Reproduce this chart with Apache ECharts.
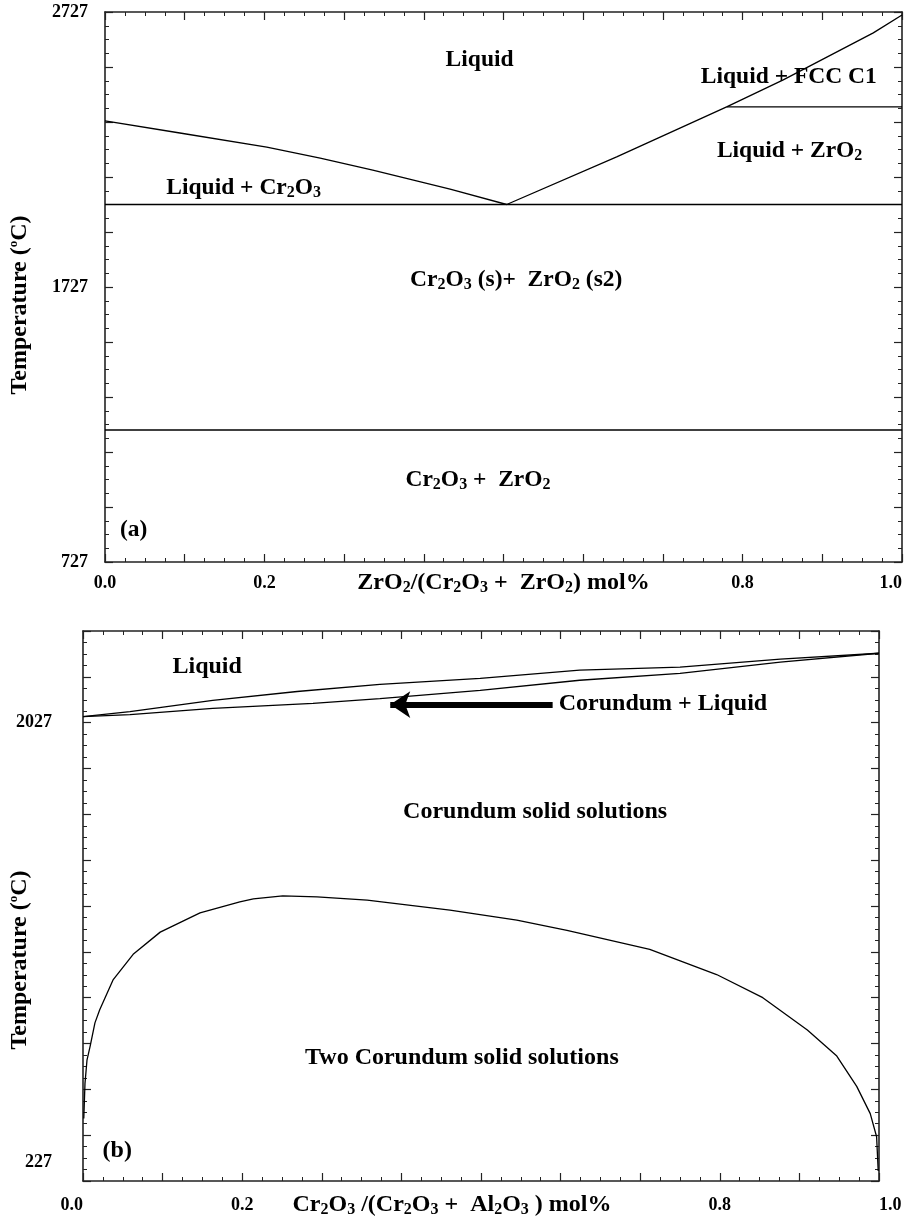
<!DOCTYPE html>
<html lang="en">
<head>
<meta charset="UTF-8">
<title>Cr2O3-ZrO2 / Cr2O3-Al2O3 phase diagrams</title>
<script src="https://cdn.jsdelivr.net/npm/echarts@6/dist/echarts.min.js"></script>
<style>
    html, body { margin: 0; padding: 0; background: #fff; }
    #chartmain { width: 904px; height: 1218px; }
</style>
</head>
<body>
<div id="chartmain"></div>
<script>
// ---------- panel (a): ZrO2/(Cr2O3 + ZrO2), T in C ----------
var liqCr2O3A = [[0, 2331], [0.094, 2287], [0.203, 2236], [0.270, 2196], [0.336, 2152], [0.433, 2083], [0.504, 2027]];
var liqZrO2A  = [[0.504, 2027], [0.642, 2200], [0.780, 2382], [0.851, 2480], [0.964, 2651], [1.0, 2716]];
var eutecticA = [[0, 2027], [1, 2027]];
var fccA      = [[0.780, 2382], [1, 2382]];
var transA    = [[0, 1207], [1, 1207]];
// x, T, text ('_n' = subscript), anchor
var labelsA = [
    [0.470, 2552, 'Liquid', 'c'],
    [0.858, 2491, 'Liquid + FCC C1', 'c'],
    [0.859, 2222, 'Liquid + ZrO_2', 'c'],
    [0.174, 2087, 'Liquid + Cr_2O_3', 'c'],
    [0.516, 1752, 'Cr_2O_3 (s)+  ZrO_2 (s2)', 'c'],
    [0.468, 1025, 'Cr_2O_3 +  ZrO_2', 'c'],
    [0.036, 843, '(a)', 'c']
];
var xTicksA = [0, 0.2, 0.8, 1.0];
var yTicksA = [727, 1727, 2727];

// ---------- panel (b): Cr2O3/(Cr2O3 + Al2O3), T in C ----------
var liquidusB = [[0, 2053], [0.059, 2075], [0.163, 2124], [0.269, 2163], [0.373, 2194], [0.499, 2220], [0.624, 2256], [0.750, 2269], [0.876, 2304], [1.0, 2330]];
var solidusB  = [[0, 2053], [0.059, 2062], [0.163, 2089], [0.289, 2111], [0.373, 2132], [0.499, 2168], [0.624, 2212], [0.750, 2242], [0.876, 2291], [1.0, 2330]];
var solvusB = [[0.001, 300], [0.0025, 453], [0.005, 554], [0.009, 616], [0.015, 717], [0.021, 774], [0.038, 906],
    [0.063, 1016], [0.097, 1113], [0.147, 1197], [0.197, 1245], [0.214, 1258], [0.251, 1271], [0.294, 1267],
    [0.357, 1253], [0.461, 1209], [0.545, 1165], [0.608, 1121], [0.712, 1038], [0.796, 928], [0.854, 827],
    [0.910, 686], [0.947, 572], [0.972, 440], [0.989, 321], [0.997, 220], [0.999, 71]];
var arrowB = [[0.590, 2106], [0.386, 2106]];
var labelsB = [
    [0.156, 2269, 'Liquid', 'c'],
    [0.597, 2111, 'Corundum + Liquid', 'l'],
    [0.568, 1640, 'Corundum solid solutions', 'c'],
    [0.476, 563, 'Two Corundum solid solutions', 'c'],
    [0.043, 159, '(b)', 'c']
];
var xTicksB = [0, 0.2, 0.8, 1.0];
var yTicksB = [227, 2027];

var FONT = '"Liberation Serif", "Times New Roman", serif';
var INK = '#000';
var FRAME = '#222';

function sub(s) {              // Cr_2O_3 -> rich text subscripts
    return s.replace(/_(\d)/g, '{s|$1}');
}
var RICH = {
    s: {fontFamily: FONT, fontWeight: 'bold', fontSize: 16, lineHeight: 13, verticalAlign: 'bottom', color: INK},
    o: {fontFamily: FONT, fontWeight: 'bold', fontSize: 13, lineHeight: 13, verticalAlign: 'top', color: INK},
    lo: {fontFamily: FONT, fontWeight: 'bold', fontSize: 18, padding: [54, 0, 0, 0], color: INK}
};

function isIn(list, v) {
    return list.some(function (t) { return Math.abs(t - v) < 1e-6; });
}

function frameAxis(extra) {
    var ax = {
        type: 'value',
        nameMoveOverlap: false,
        axisLine: {show: true, onZero: false, lineStyle: {color: FRAME, width: 1.6}},
        axisTick: {show: true, inside: true, length: 8, lineStyle: {color: FRAME, width: 1.2}},
        minorTick: {show: true, splitNumber: 4, length: 4, lineStyle: {color: FRAME, width: 1}},
        splitLine: {show: false},
        minorSplitLine: {show: false},
        axisLabel: {show: false}
    };
    for (var k in extra) ax[k] = extra[k];
    return ax;
}

function tickLabel(fmt, margin, more) {
    var l = {show: true, margin: margin, color: INK, fontFamily: FONT, fontWeight: 'bold', fontSize: 18,
        showMinLabel: true, showMaxLabel: true, formatter: fmt, rich: RICH};
    for (var k in more) l[k] = more[k];
    return l;
}

var titleStyle = {color: INK, fontFamily: FONT, fontWeight: 'bold', fontSize: 24, lineHeight: 26, rich: RICH};
function titleStyleWith(pad) {
    var t = {};
    for (var k in titleStyle) t[k] = titleStyle[k];
    t.padding = pad;
    return t;
}

var xAxes = [
    frameAxis({gridIndex: 0, position: 'bottom', min: 0, max: 1, interval: 0.1,
        axisLabel: tickLabel(function (v) { return isIn(xTicksA, v) ? v.toFixed(1) : ''; }, 12, {alignMaxLabel: 'right'}),
        name: sub('ZrO_2/(Cr_2O_3 +  ZrO_2) mol%'), nameLocation: 'middle', nameGap: 8,
        nameTextStyle: titleStyle}),
    frameAxis({gridIndex: 0, position: 'top', min: 0, max: 1, interval: 0.1}),
    frameAxis({gridIndex: 1, position: 'bottom', min: 0, max: 1, interval: 0.1,
        axisLabel: tickLabel(function (v) { return isIn(xTicksB, v) ? v.toFixed(1) : ''; }, 15, {alignMaxLabel: 'left', alignMinLabel: 'right'}),
        name: sub('Cr_2O_3 /(Cr_2O_3 +  Al_2O_3 ) mol%'), nameLocation: 'middle', nameGap: 11,
        nameTextStyle: titleStyleWith([0, 58, 0, 0])}),
    frameAxis({gridIndex: 1, position: 'top', min: 0, max: 1, interval: 0.1})
];

var yAxes = [
    frameAxis({gridIndex: 0, position: 'left', min: 727, max: 2727, interval: 200,
        axisLabel: tickLabel(function (v) { return isIn(yTicksA, v) ? String(v) : ''; }, 17),
        name: 'Temperature ({o|o}C)', nameLocation: 'middle', nameGap: 72,
        nameTextStyle: titleStyleWith([0, 36, 0, 0])}),
    frameAxis({gridIndex: 0, position: 'right', min: 727, max: 2727, interval: 200}),
    frameAxis({gridIndex: 1, position: 'left', min: 27, max: 2427, interval: 200,
        axisLabel: tickLabel(function (v) {
            if (!isIn(yTicksB, v)) return '';
            return v < 1000 ? '{lo|' + v + '}' : String(v);
        }, 31),
        name: 'Temperature ({o|o}C)', nameLocation: 'middle', nameGap: 50,
        nameTextStyle: titleStyleWith([0, 108, 0, 0])}),
    frameAxis({gridIndex: 1, position: 'right', min: 27, max: 2427, interval: 200})
];

function curve(data, panel) {
    return {
        type: 'line', xAxisIndex: panel * 2, yAxisIndex: panel * 2, data: data,
        symbol: 'none', silent: true, animation: false,
        lineStyle: {color: INK, width: 1.3}
    };
}

function textSeries(list, panel, size) {
    return {
        type: 'scatter', xAxisIndex: panel * 2, yAxisIndex: panel * 2,
        symbolSize: 1, itemStyle: {color: 'transparent', opacity: 1}, silent: true, animation: false,
        data: list.map(function (l) {
            return {
                value: [l[0], l[1]],
                label: {formatter: sub(l[2]), position: l[3] === 'l' ? 'right' : 'inside', distance: 0}
            };
        }),
        label: {show: true, opacity: 1, color: INK, fontFamily: FONT, fontWeight: 'bold', fontSize: size, lineHeight: 26, rich: RICH}
    };
}

var series = [
    curve(liqCr2O3A, 0), curve(liqZrO2A, 0), curve(eutecticA, 0), curve(fccA, 0), curve(transA, 0),
    textSeries(labelsA, 0, 23.5),
    curve(liquidusB, 1), curve(solidusB, 1), curve(solvusB, 1),
    {
        type: 'lines', coordinateSystem: 'cartesian2d', xAxisIndex: 2, yAxisIndex: 2,
        silent: true, animation: false,
        symbol: ['none', 'arrow'], symbolSize: 20,
        lineStyle: {color: INK, width: 6, opacity: 1, curveness: 0},
        data: [{coords: arrowB}]
    },
    textSeries(labelsB, 1, 24)
];

var option = {
    backgroundColor: '#fff',
    animation: false,
    grid: [
        {left: 105, top: 12, width: 797, height: 550, containLabel: false, outerBoundsMode: 'none'},
        {left: 83, top: 631, width: 796, height: 550, containLabel: false, outerBoundsMode: 'none'}
    ],
    xAxis: xAxes,
    yAxis: yAxes,
    series: series
};

var myChart = echarts.init(document.getElementById('chartmain'));
myChart.setOption(option);
</script>
</body>
</html>
